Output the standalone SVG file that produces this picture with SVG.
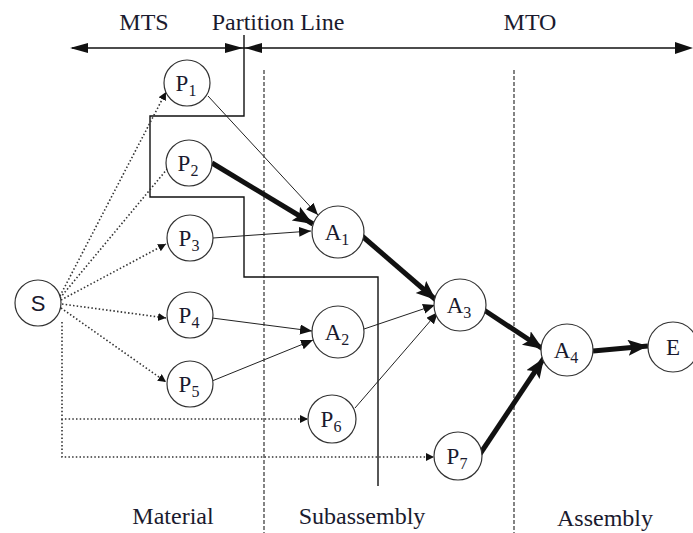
<svg xmlns="http://www.w3.org/2000/svg" width="693" height="533" viewBox="0 0 693 533">
<style>
.node circle{fill:#fff;stroke:#333;stroke-width:1.2}
.lbl{font-family:"Liberation Serif","Times New Roman",serif;font-size:23px;fill:#1a1a2e;text-anchor:middle}
.sub{font-size:16px}
.cap{font-family:"Liberation Serif","Times New Roman",serif;font-size:24px;fill:#1a1a2e;text-anchor:middle}
.thin{stroke:#222;stroke-width:1;fill:none}
.thick{stroke:#111;stroke-width:5;fill:none}
.dot{stroke:#333;stroke-width:1.6;stroke-dasharray:1.5 2.2;fill:none}
.dash{stroke:#333;stroke-width:1.2;stroke-dasharray:4 2;fill:none}
.part{stroke:#111;stroke-width:1.4;fill:none}
</style>
<defs>
<marker id="ah" markerUnits="userSpaceOnUse" markerWidth="14" markerHeight="12" refX="12" refY="5" orient="auto"><path d="M0,0 L12,5 L0,10 Z" fill="#111"/></marker>
<marker id="ahs" markerUnits="userSpaceOnUse" markerWidth="10" markerHeight="10" refX="8" refY="4" orient="auto"><path d="M0,0 L8,4 L0,8 Z" fill="#111"/></marker>
<marker id="ahb" markerUnits="userSpaceOnUse" markerWidth="22" markerHeight="18" refX="20" refY="8" orient="auto"><path d="M0,0 L20,8 L0,16 L4,8 Z" fill="#111"/></marker>
</defs>
<rect width="693" height="533" fill="#fff"/>
<g id="header">
<text class="cap" x="144" y="30">MTS</text>
<text class="cap" x="278" y="30">Partition Line</text>
<text class="cap" x="530" y="30">MTO</text>
<line class="part" x1="72" y1="48" x2="690" y2="48"/>
<polygon points="70,48 88,43 88,53" fill="#111"/>
<polygon points="243,48 225,43 225,53" fill="#111"/>
<polygon points="245,48 262,43 262,53" fill="#111"/>
<polygon points="693,48 675,42 675,54" fill="#111"/>
</g>
<g id="dividers">
<line class="dash" x1="264" y1="70" x2="264" y2="533"/>
<line class="dash" x1="514" y1="70" x2="514" y2="533"/>
</g>
<g id="partition-line">
<path class="part" d="M244,35 V116 H150 V197 H244 V277 H378 V486"/>
</g>
<g id="captions">
<text class="cap" x="173" y="524">Material</text>
<text class="cap" x="362" y="524">Subassembly</text>
<text class="cap" x="605" y="526">Assembly</text>
</g>
<g id="connectors">
<path class="dot" d="M60,296 L166,92" marker-end="url(#ahs)"/>
<path class="dot" d="M60,298 L168,168"/>
<path class="dot" d="M61,300 L166,244" marker-end="url(#ahs)"/>
<path class="dot" d="M62,304 L166,318" marker-end="url(#ahs)"/>
<path class="dot" d="M61,308 L166,382" marker-end="url(#ahs)"/>
<path class="dot" d="M62,322 V419 H308" marker-end="url(#ahs)"/>
<path class="dot" d="M62,419 V457 H434" marker-end="url(#ahs)"/>
<line class="thin" x1="208" y1="96" x2="318" y2="215" marker-end="url(#ah)"/>
<line class="thin" x1="213" y1="238" x2="311" y2="231" marker-end="url(#ah)"/>
<line class="thin" x1="212" y1="318" x2="312" y2="331" marker-end="url(#ah)"/>
<line class="thin" x1="212" y1="381" x2="313" y2="340" marker-end="url(#ah)"/>
<line class="thin" x1="364" y1="329" x2="435" y2="305" marker-end="url(#ah)"/>
<line class="thin" x1="355" y1="408" x2="438" y2="312" marker-end="url(#ah)"/>
<line class="thick" x1="212" y1="163" x2="313" y2="224" marker-end="url(#ahb)"/>
<line class="thick" x1="362" y1="236" x2="436" y2="300" marker-end="url(#ahb)"/>
<line class="thick" x1="484" y1="310" x2="543" y2="349" marker-end="url(#ahb)"/>
<line class="thick" x1="480" y1="454" x2="544" y2="358" marker-end="url(#ahb)"/>
<line class="thick" x1="593" y1="351" x2="648" y2="346" marker-end="url(#ahb)"/>
</g>
<g id="S" class="node"><circle cx="38" cy="303" r="23"/><text x="38" y="311" font-family="Liberation Sans,Arial,sans-serif" font-size="22" fill="#1a1a2e" text-anchor="middle">S</text></g>
<g id="P1" class="node"><circle cx="187" cy="83" r="23"/><text class="lbl" x="186" y="91">P<tspan class="sub" dy="5">1</tspan></text></g>
<g id="P2" class="node"><circle cx="189" cy="163" r="23"/><text class="lbl" x="188" y="171">P<tspan class="sub" dy="5">2</tspan></text></g>
<g id="P3" class="node"><circle cx="190" cy="238" r="23"/><text class="lbl" x="189" y="246">P<tspan class="sub" dy="5">3</tspan></text></g>
<g id="P4" class="node"><circle cx="190" cy="315" r="23"/><text class="lbl" x="189" y="323">P<tspan class="sub" dy="5">4</tspan></text></g>
<g id="P5" class="node"><circle cx="190" cy="384" r="23"/><text class="lbl" x="189" y="392">P<tspan class="sub" dy="5">5</tspan></text></g>
<g id="A1" class="node"><circle cx="338" cy="232" r="26"/><text class="lbl" x="337" y="240">A<tspan class="sub" dy="5">1</tspan></text></g>
<g id="A2" class="node"><circle cx="338" cy="332" r="26"/><text class="lbl" x="337" y="340">A<tspan class="sub" dy="5">2</tspan></text></g>
<g id="P6" class="node"><circle cx="332" cy="419" r="24"/><text class="lbl" x="331" y="427">P<tspan class="sub" dy="5">6</tspan></text></g>
<g id="A3" class="node"><circle cx="460" cy="305" r="26"/><text class="lbl" x="459" y="313">A<tspan class="sub" dy="5">3</tspan></text></g>
<g id="P7" class="node"><circle cx="458" cy="456" r="24"/><text class="lbl" x="457" y="464">P<tspan class="sub" dy="5">7</tspan></text></g>
<g id="A4" class="node"><circle cx="567" cy="350" r="26"/><text class="lbl" x="566" y="358">A<tspan class="sub" dy="5">4</tspan></text></g>
<g id="E" class="node"><circle cx="673" cy="347" r="25"/><text class="lbl" x="673" y="355">E</text></g>
</svg>
